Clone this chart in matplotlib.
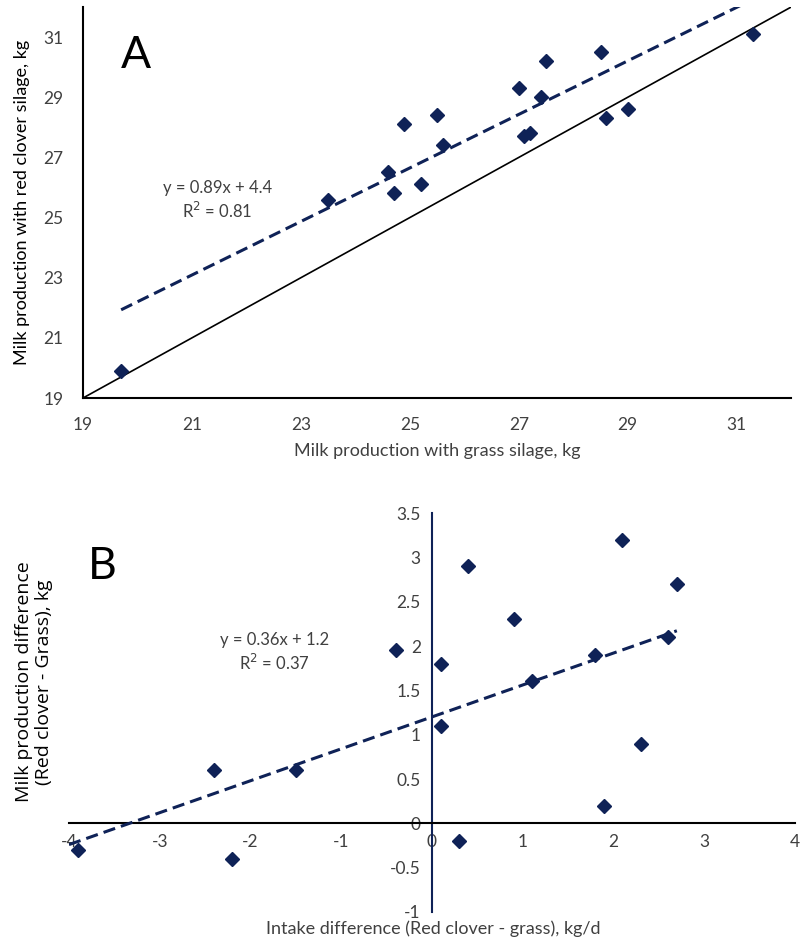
import matplotlib
matplotlib.use("Agg")
import matplotlib.pyplot as plt
import numpy as np

# ---- Panel A data ----
grass_milk = [19.7, 23.5, 24.6, 24.7, 24.9, 25.2, 25.5, 25.6, 27.0, 27.1, 27.2,
              27.4, 27.5, 28.5, 28.6, 29.0, 31.3]
clover_milk = [19.9, 25.6, 26.5, 25.8, 28.1, 26.1, 28.4, 27.4, 29.3, 27.7, 27.8,
               29.0, 30.2, 30.5, 28.3, 28.6, 31.1]
fitA = [0.89, 4.4]
ticksA = [19, 21, 23, 25, 27, 29, 31]

# ---- Panel B data ----
intake_diff = [-3.9, -2.4, -2.2, -1.5, -0.4, 0.1, 0.1, 0.3, 0.4, 0.9, 1.1, 1.8,
               1.9, 2.1, 2.3, 2.6, 2.7]
milk_diff = [-0.3, 0.6, -0.4, 0.6, 1.95, 1.8, 1.1, -0.2, 2.9, 2.3, 1.6, 1.9,
             0.2, 3.2, 0.9, 2.1, 2.7]
fitB = [0.36, 1.2]
xticksB = [-4, -3, -2, -1, 0, 1, 2, 3, 4]
yticksB = [-1, -0.5, 0, 0.5, 1, 1.5, 2, 2.5, 3, 3.5]

NAVY = "#0F2257"
TXT = "#404040"
FONT = ["Lato", "DejaVu Sans"]
plt.rcParams["font.family"] = FONT

fig = plt.figure(figsize=(8.02, 9.49), dpi=100)

# ================= Panel A =================
axA = fig.add_axes([0.1035, 0.5806, 0.883, 0.412])
axA.set_xlim(19, 32)
axA.set_ylim(19, 32)
for s in ["top", "right"]:
    axA.spines[s].set_visible(False)
for s in ["left", "bottom"]:
    axA.spines[s].set_color("black")
    axA.spines[s].set_linewidth(1.5)
axA.set_xticks(ticksA)
axA.set_yticks(ticksA)
axA.set_xticklabels([str(t) for t in ticksA])
axA.set_yticklabels([str(t) for t in ticksA])
axA.tick_params(length=0, labelsize=12.5, labelcolor=TXT, pad=14)
axA.tick_params(axis="y", pad=14)

# identity line
axA.plot([19, 32], [19, 32], color="black", lw=1.2, zorder=2)
# trend line
xa = np.array([min(grass_milk), max(grass_milk)])
axA.plot(xa, fitA[0] * xa + fitA[1], color=NAVY, lw=2.2, ls=(0, (4, 2)), zorder=3)
axA.plot(grass_milk, clover_milk, ls="none", marker="D", ms=7.5, color=NAVY,
         mec=NAVY, zorder=4, clip_on=False)

axA.text(0.19, 0.505, "y = 0.89x + 4.4\nR$^2$ = 0.81", transform=axA.transAxes,
         ha="center", va="center", fontsize=12, color=TXT, linespacing=1.3)
axA.text(0.075, 0.875, "A", transform=axA.transAxes, ha="center", va="center",
         fontsize=32, color="black")
axA.set_xlabel("Milk production with grass silage, kg", fontsize=13, color=TXT,
               labelpad=7)
axA.set_ylabel("Milk production with red clover silage, kg", fontsize=13,
               color="black", labelpad=10)

# ================= Panel B =================
axB = fig.add_axes([0.086, 0.039, 0.905, 0.4204])
axB.set_xlim(-4, 4)
axB.set_ylim(-1, 3.5)
for s in ["top", "right"]:
    axB.spines[s].set_visible(False)
axB.spines["left"].set_position(("data", 0))
axB.spines["bottom"].set_position(("data", 0))
axB.spines["left"].set_color(NAVY)
axB.spines["left"].set_linewidth(1.5)
axB.spines["bottom"].set_color("black")
axB.spines["bottom"].set_linewidth(1.5)
axB.set_xticks(xticksB)
axB.set_yticks(yticksB)
axB.set_xticklabels([f"{t:g}" for t in xticksB])
axB.set_yticklabels([f"{t:g}" for t in yticksB])
axB.tick_params(length=0, labelsize=12.5, labelcolor=TXT)
axB.tick_params(axis="x", pad=8)
axB.tick_params(axis="y", pad=8)

xb = np.array([-4.0, max(intake_diff)])
axB.plot(xb, fitB[0] * xb + fitB[1], color=NAVY, lw=2.2, ls=(0, (4, 2)), zorder=3)
axB.plot(intake_diff, milk_diff, ls="none", marker="D", ms=7.5, color=NAVY,
         mec=NAVY, zorder=4, clip_on=False)

axB.text(0.283, 0.65, "y = 0.36x + 1.2\nR$^2$ = 0.37", transform=axB.transAxes,
         ha="center", va="center", fontsize=12, color=TXT, linespacing=1.3)
axB.text(0.046, 0.865, "B", transform=axB.transAxes, ha="center", va="center",
         fontsize=32, color="black")

fig.text(433 / 802, 1 - 929 / 949, "Intake difference (Red clover - grass), kg/d",
         ha="center", va="center", fontsize=13, color=TXT)
fig.text(34 / 802, 1 - 682 / 949,
         "Milk production difference\n(Red clover - Grass), kg",
         ha="center", va="center", rotation=90, fontsize=14, color="black",
         family=["Open Sans", "DejaVu Sans"], linespacing=1.1)

fig.savefig("out.png", dpi=100)
